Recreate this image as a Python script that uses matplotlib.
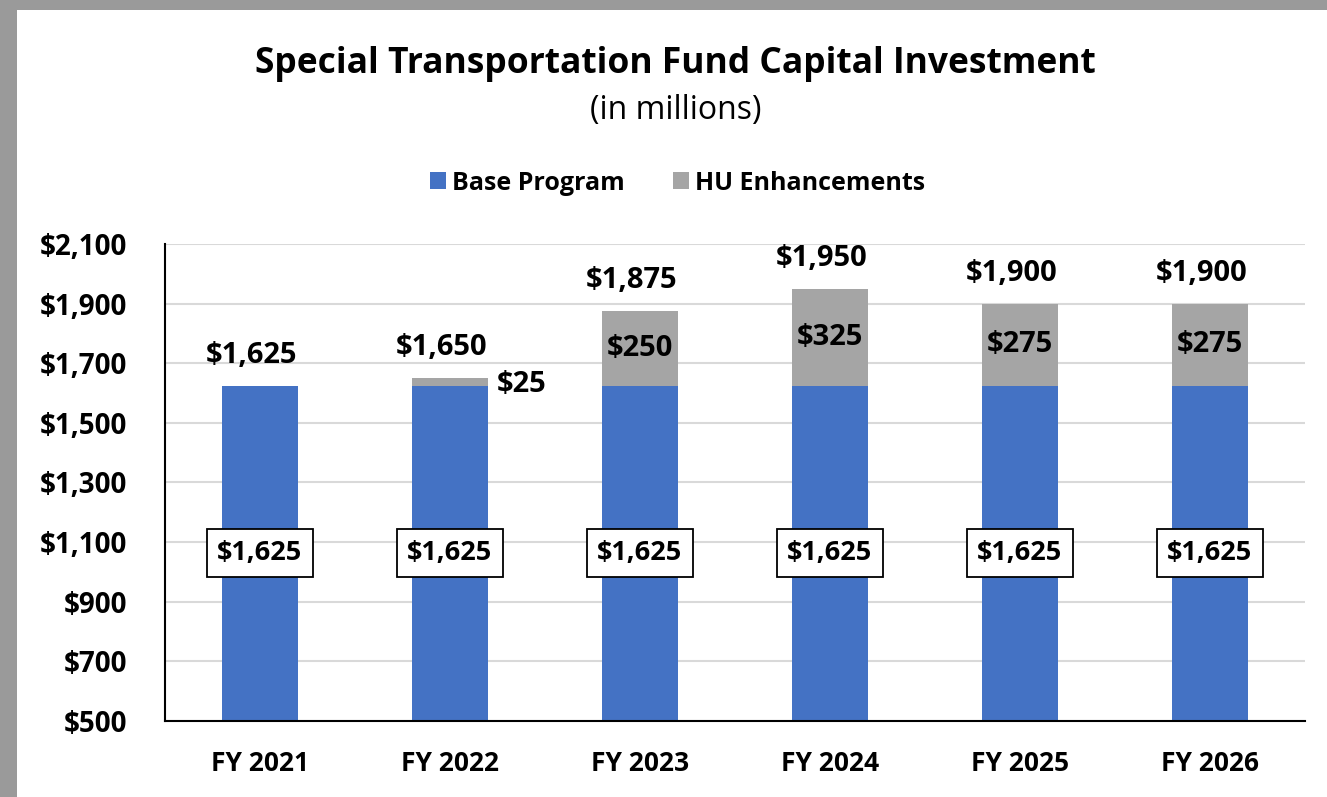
import matplotlib.pyplot as plt
from matplotlib.patches import Rectangle

plt.rcParams['font.family'] = ['Open Sans', 'DejaVu Sans']

years = ['FY 2021', 'FY 2022', 'FY 2023', 'FY 2024', 'FY 2025', 'FY 2026']
base = [1625, 1625, 1625, 1625, 1625, 1625]
hu = [0, 25, 250, 325, 275, 275]
totals = [b + h for b, h in zip(base, hu)]

blue = '#4472C4'
grey = '#A5A5A5'
ymin, ymax = 500, 2100

fig = plt.figure(figsize=(13.27, 7.97), dpi=100)
fig.patch.set_facecolor('#9a9a9a')
# white card with a shadow-like grey edge on left and top
fig.patches.append(Rectangle((17 / 1327, 0), 1, 1 - 10 / 797, transform=fig.transFigure,
                             facecolor='white', edgecolor='none', zorder=-5))

ax = fig.add_axes([165 / 1327, 76 / 797, 1140 / 1327, 477 / 797])
ax.set_facecolor('none')
x = range(len(years))
ax.bar(x, base, width=0.4, color=blue, label='Base Program', zorder=2)
ax.bar(x, hu, width=0.4, bottom=base, color=grey, label='HU Enhancements', zorder=2)

ax.set_ylim(ymin, ymax)
ax.set_xlim(-0.5, len(years) - 0.5)
ax.set_yticks(range(ymin, ymax + 1, 200))
ax.set_yticklabels(['${:,}'.format(v) for v in range(ymin, ymax + 1, 200)])
ax.set_xticks(list(x))
ax.set_xticklabels(years)
ax.tick_params(axis='y', length=0, labelsize=20, pad=27)
ax.tick_params(axis='x', length=0, labelsize=19, pad=21)
for lab in ax.get_xticklabels() + ax.get_yticklabels():
    lab.set_fontweight('bold')

ax.grid(axis='y', color='#D9D9D9', linewidth=1.5, zorder=0)
ax.set_axisbelow(True)
for s in ['top', 'right']:
    ax.spines[s].set_visible(False)
for s in ['left', 'bottom']:
    ax.spines[s].set_color('black')
    ax.spines[s].set_linewidth(1.5)

# base labels in boxes, centred in the visible part of the bar
for i, b in enumerate(base):
    ax.text(i, (ymin + b) / 2, '${:,}'.format(b), ha='center', va='center',
            fontsize=19.5, fontweight='bold', zorder=4,
            bbox=dict(boxstyle='square,pad=0.4', facecolor='white', edgecolor='black', linewidth=1.3))

# HU labels
for i, (b, h) in enumerate(zip(base, hu)):
    if h == 0:
        continue
    if h < 100:
        ax.annotate('${:,}'.format(h), (i + 0.2, b + h / 2), xytext=(6, -2), textcoords='offset points',
                    ha='left', va='center', fontsize=21, fontweight='bold', zorder=4)
    else:
        ax.text(i, b + h / 2, '${:,}'.format(h), ha='center', va='center',
                fontsize=21, fontweight='bold', zorder=4)

# totals above bars
for i, t in enumerate(totals):
    ax.annotate('${:,}'.format(t), (i, t), xytext=(-6, 22), textcoords='offset points',
                ha='center', va='center', fontsize=21, fontweight='bold', zorder=4)

fig.text(0.5 + 12 / 1327, 1 - 64 / 797, 'Special Transportation Fund Capital Investment',
         ha='center', va='center', fontsize=25.5, fontweight='bold')
fig.text(0.5 + 12 / 1327, 1 - 110 / 797, '(in millions)', ha='center', va='center', fontsize=23)

ax.legend(loc='center', bbox_to_anchor=(0.5 + 14 / 1327, 1 - 183 / 797), bbox_transform=fig.transFigure,
          ncol=2, frameon=False, prop={'size': 18, 'weight': 'bold'},
          handlelength=0.65, handleheight=0.65, handletextpad=0.25, columnspacing=1.9)

fig.savefig('out.png', dpi=100, facecolor=fig.get_facecolor())
